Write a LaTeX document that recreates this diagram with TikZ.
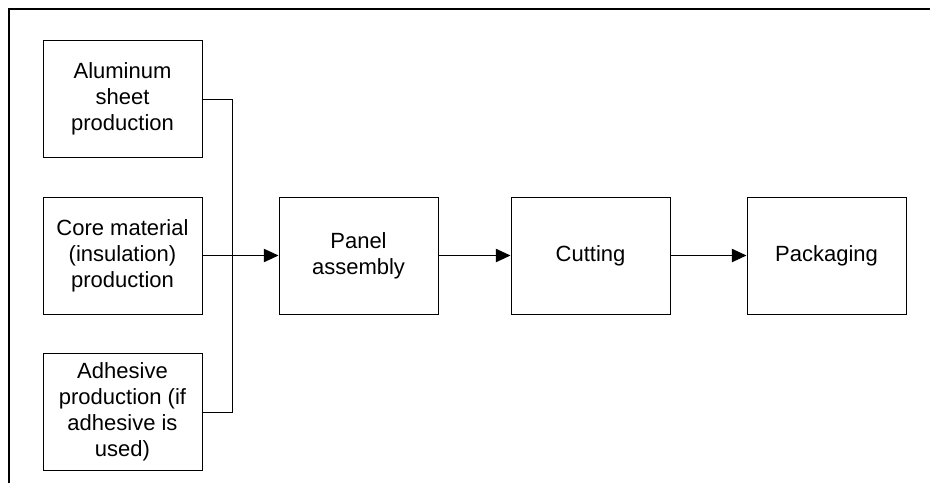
\documentclass[tikz,border=0pt]{standalone}
\usepackage{fontspec}
\setmainfont{Liberation Sans}
\usetikzlibrary{arrows.meta}
\tikzset{
    stage/.style={draw, line width=0.75pt, minimum width=119.25pt, minimum height=87.75pt,
        inner sep=0pt, align=center, font=\fontsize{16.5}{19.5}\selectfont},
    flow/.style={line width=0.75pt, -{Triangle[length=11pt,width=10pt]}}
}
\begin{document}
\begin{tikzpicture}[x=0.75pt, y=-0.75pt]
            \useasboundingbox (0,0) rectangle (930,483);
            % Frame
            \draw[line width=1.5pt] (9,483) -- (9,9) -- (930,9);
            % Input stages
            \node[stage] (alu) at (122.5,99) {Aluminum\\sheet\\production};
            \node[stage] (core) at (122.5,255.5) {Core material\\(insulation)\\production};
            \node[stage] (adh) at (122.5,412) {Adhesive\\production (if\\adhesive is\\used)};
            % Main line
            \node[stage] (panel) at (358.5,255.5) {Panel\\assembly};
            \node[stage] (cut) at (590.5,255.5) {Cutting};
            \node[stage] (pack) at (826.5,255.5) {Packaging};
            % Collector
            \coordinate (bustop) at (232,99);
            \coordinate (busbot) at (232,412);
            \draw[line width=0.75pt] (alu.east) -- (bustop) -- (busbot) -- (adh.east);
            \draw[flow] (core.east) -- (panel.west);
            \draw[flow] (panel) -- (cut);
            \draw[flow] (cut) -- (pack);
        \end{tikzpicture}
\end{document}
